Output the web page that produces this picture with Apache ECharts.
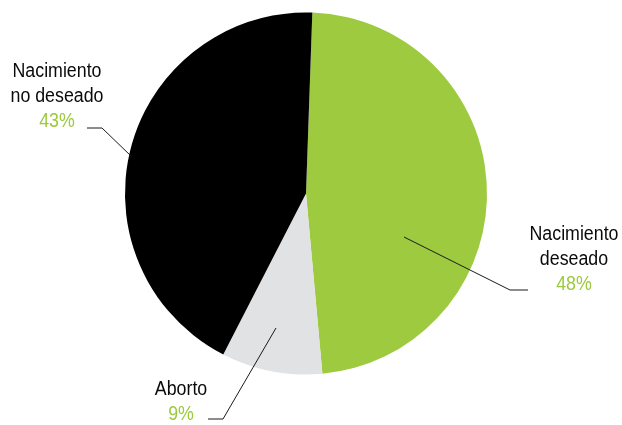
<!DOCTYPE html>
<html>
<head>
<meta charset="utf-8">
<style>
  html, body { margin: 0; padding: 0; background: #ffffff; }
  #chart { width: 622px; height: 425px; }
</style>
<script src="https://cdn.jsdelivr.net/npm/echarts@6/dist/echarts.min.js"></script>
</head>
<body>
<div id="chart"></div>
<script>
// Outcome categories and their shares (%)
var categories = ['Nacimiento deseado', 'Aborto', 'Nacimiento no deseado'];
var labelLines = [['Nacimiento', 'deseado'], ['Aborto'], ['Nacimiento', 'no deseado']];
var shares = [48, 9, 43];
var sliceColors = ['#9DCA3F', '#E1E2E4', '#000000'];

// Label placement: text centre x, first baseline y, and leader line path
var labelSpots = [
  { x: 574, y: 241, line: [[404, 237], [510, 290], [528, 290]] },
  { x: 181, y: 396, line: [[276, 328], [223, 419], [208, 419]] },
  { x: 57,  y: 78,  line: [[131, 156], [102, 128], [87, 128]] }
];

var FONT = '20px "Liberation Sans", Arial, sans-serif';
var LINE_H = 25;
var NARROW = 0.89;   // condensed look for the label face

var chart = echarts.init(document.getElementById('chart'), null, { renderer: 'canvas' });

var data = categories.map(function (c, i) {
  return { name: c, value: shares[i], itemStyle: { color: sliceColors[i] } };
});

// Leader lines and label text, drawn above the pie
var graphics = [];
labelSpots.forEach(function (s, i) {
  graphics.push({
    type: 'polyline',
    z: 10,
    shape: { points: s.line },
    style: { stroke: '#1a1a1a', lineWidth: 1, fill: null }
  });
  var kids = [];
  labelLines[i].forEach(function (t, k) {
    kids.push({
      type: 'text',
      x: 0, y: s.y + k * LINE_H - 7,
      style: { text: t, font: FONT, fill: '#0a0a0a', textAlign: 'center', textVerticalAlign: 'middle' }
    });
  });
  kids.push({
    type: 'text',
    x: 0, y: s.y + labelLines[i].length * LINE_H - 7,
    style: { text: shares[i] + '%', font: FONT, fill: '#9BC93C', textAlign: 'center', textVerticalAlign: 'middle' }
  });
  graphics.push({ type: 'group', x: s.x, y: 0, scaleX: NARROW, z: 10, children: kids });
});

chart.setOption({
  animation: false,
  graphic: graphics,
  series: [{
    type: 'pie',
    center: [306, 193.5],
    radius: [0, 181],
    startAngle: 88,
    clockwise: true,
    data: data,
    itemStyle: { borderWidth: 0 },
    label: { show: false },
    labelLine: { show: false }
  }]
});
</script>
</body>
</html>
